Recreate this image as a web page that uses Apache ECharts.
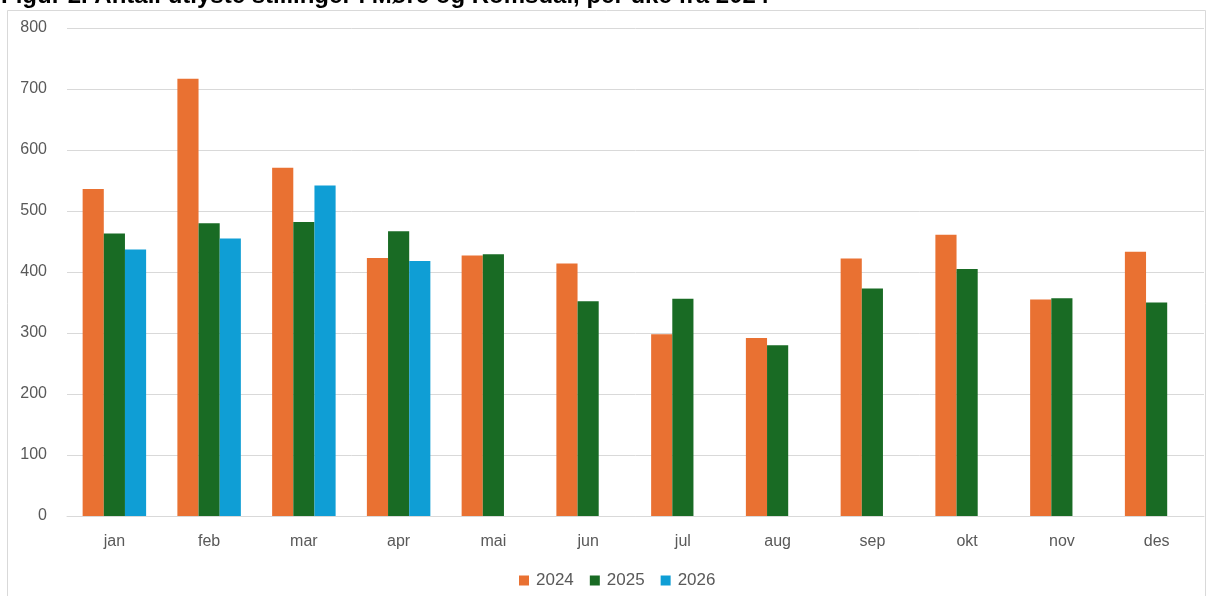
<!DOCTYPE html>
<html>
<head>
<meta charset="utf-8">
<script src="https://cdn.jsdelivr.net/npm/echarts@6/dist/echarts.min.js"></script>
<style>
html,body{margin:0;padding:0;background:#fff;}
#c{width:1209px;height:596px;}
</style>
</head>
<body>
<div id="c"></div>
<script>
const titleText = "Figur 2. Antall utlyste stillinger i Møre og Romsdal, per uke fra 2024";
const categories = ["jan","feb","mar","apr","mai","jun","jul","aug","sep","okt","nov","des"];
const seriesNames = ["2024","2025","2026"];
const values2024 = [536, 717, 571, 423, 427, 414, 298, 292, 422, 461, 355, 433];
const values2025 = [463, 480, 482, 467, 429, 352, 356, 280, 373, 405, 357, 350];
const values2026 = [437, 455, 542, 418, null, null, null, null, null, null, null, null];
const yTicks = [0, 100, 200, 300, 400, 500, 600, 700, 800];

const colors = ["#E97132", "#196B24", "#0F9ED5"];
const chart = echarts.init(document.getElementById('c'), null, {renderer: 'canvas'});
const allValues = [values2024, values2025, values2026];

chart.setOption({
  animation: false,
  backgroundColor: '#ffffff',
  title: {
    text: titleText,
    left: 1,
    top: -16,
    padding: 0,
    textStyle: {fontFamily: 'Liberation Sans', fontWeight: 'bold', fontSize: 24, color: '#000000'}
  },
  graphic: [{
    type: 'rect',
    shape: {x: 7.5, y: 10.5, width: 1198, height: 600},
    style: {fill: 'none', stroke: '#d9d9d9', lineWidth: 1},
    silent: true, z: -1
  }],
  color: colors,
  grid: {left: 67, right: 5, top: 28, bottom: 80, containLabel: false},
  legend: {
    data: seriesNames,
    left: 514,
    top: 567,
    itemWidth: 10,
    itemHeight: 10,
    itemGap: 16,
    icon: 'rect',
    textStyle: {fontFamily: 'Liberation Sans', fontSize: 17, color: '#595959', padding: [0,0,0,2]}
  },
  xAxis: {
    type: 'category',
    data: categories,
    axisLine: {show: true, lineStyle: {color: '#d9d9d9', width: 1}},
    axisTick: {show: false},
    axisLabel: {fontFamily: 'Liberation Sans', fontSize: 16, color: '#595959', margin: 18}
  },
  yAxis: {
    type: 'value',
    min: yTicks[0],
    max: yTicks[yTicks.length - 1],
    interval: yTicks[1] - yTicks[0],
    axisLine: {show: false},
    axisTick: {show: false},
    splitLine: {lineStyle: {color: '#d9d9d9', width: 1}},
    axisLabel: {fontFamily: 'Liberation Sans', fontSize: 16, color: '#595959', margin: 20}
  },
  series: seriesNames.map((n, i) => ({
    name: n,
    type: 'bar',
    data: allValues[i],
    barGap: '0%',
    barCategoryGap: '33%',
    itemStyle: {color: colors[i]}
  }))
});
</script>
</body>
</html>
